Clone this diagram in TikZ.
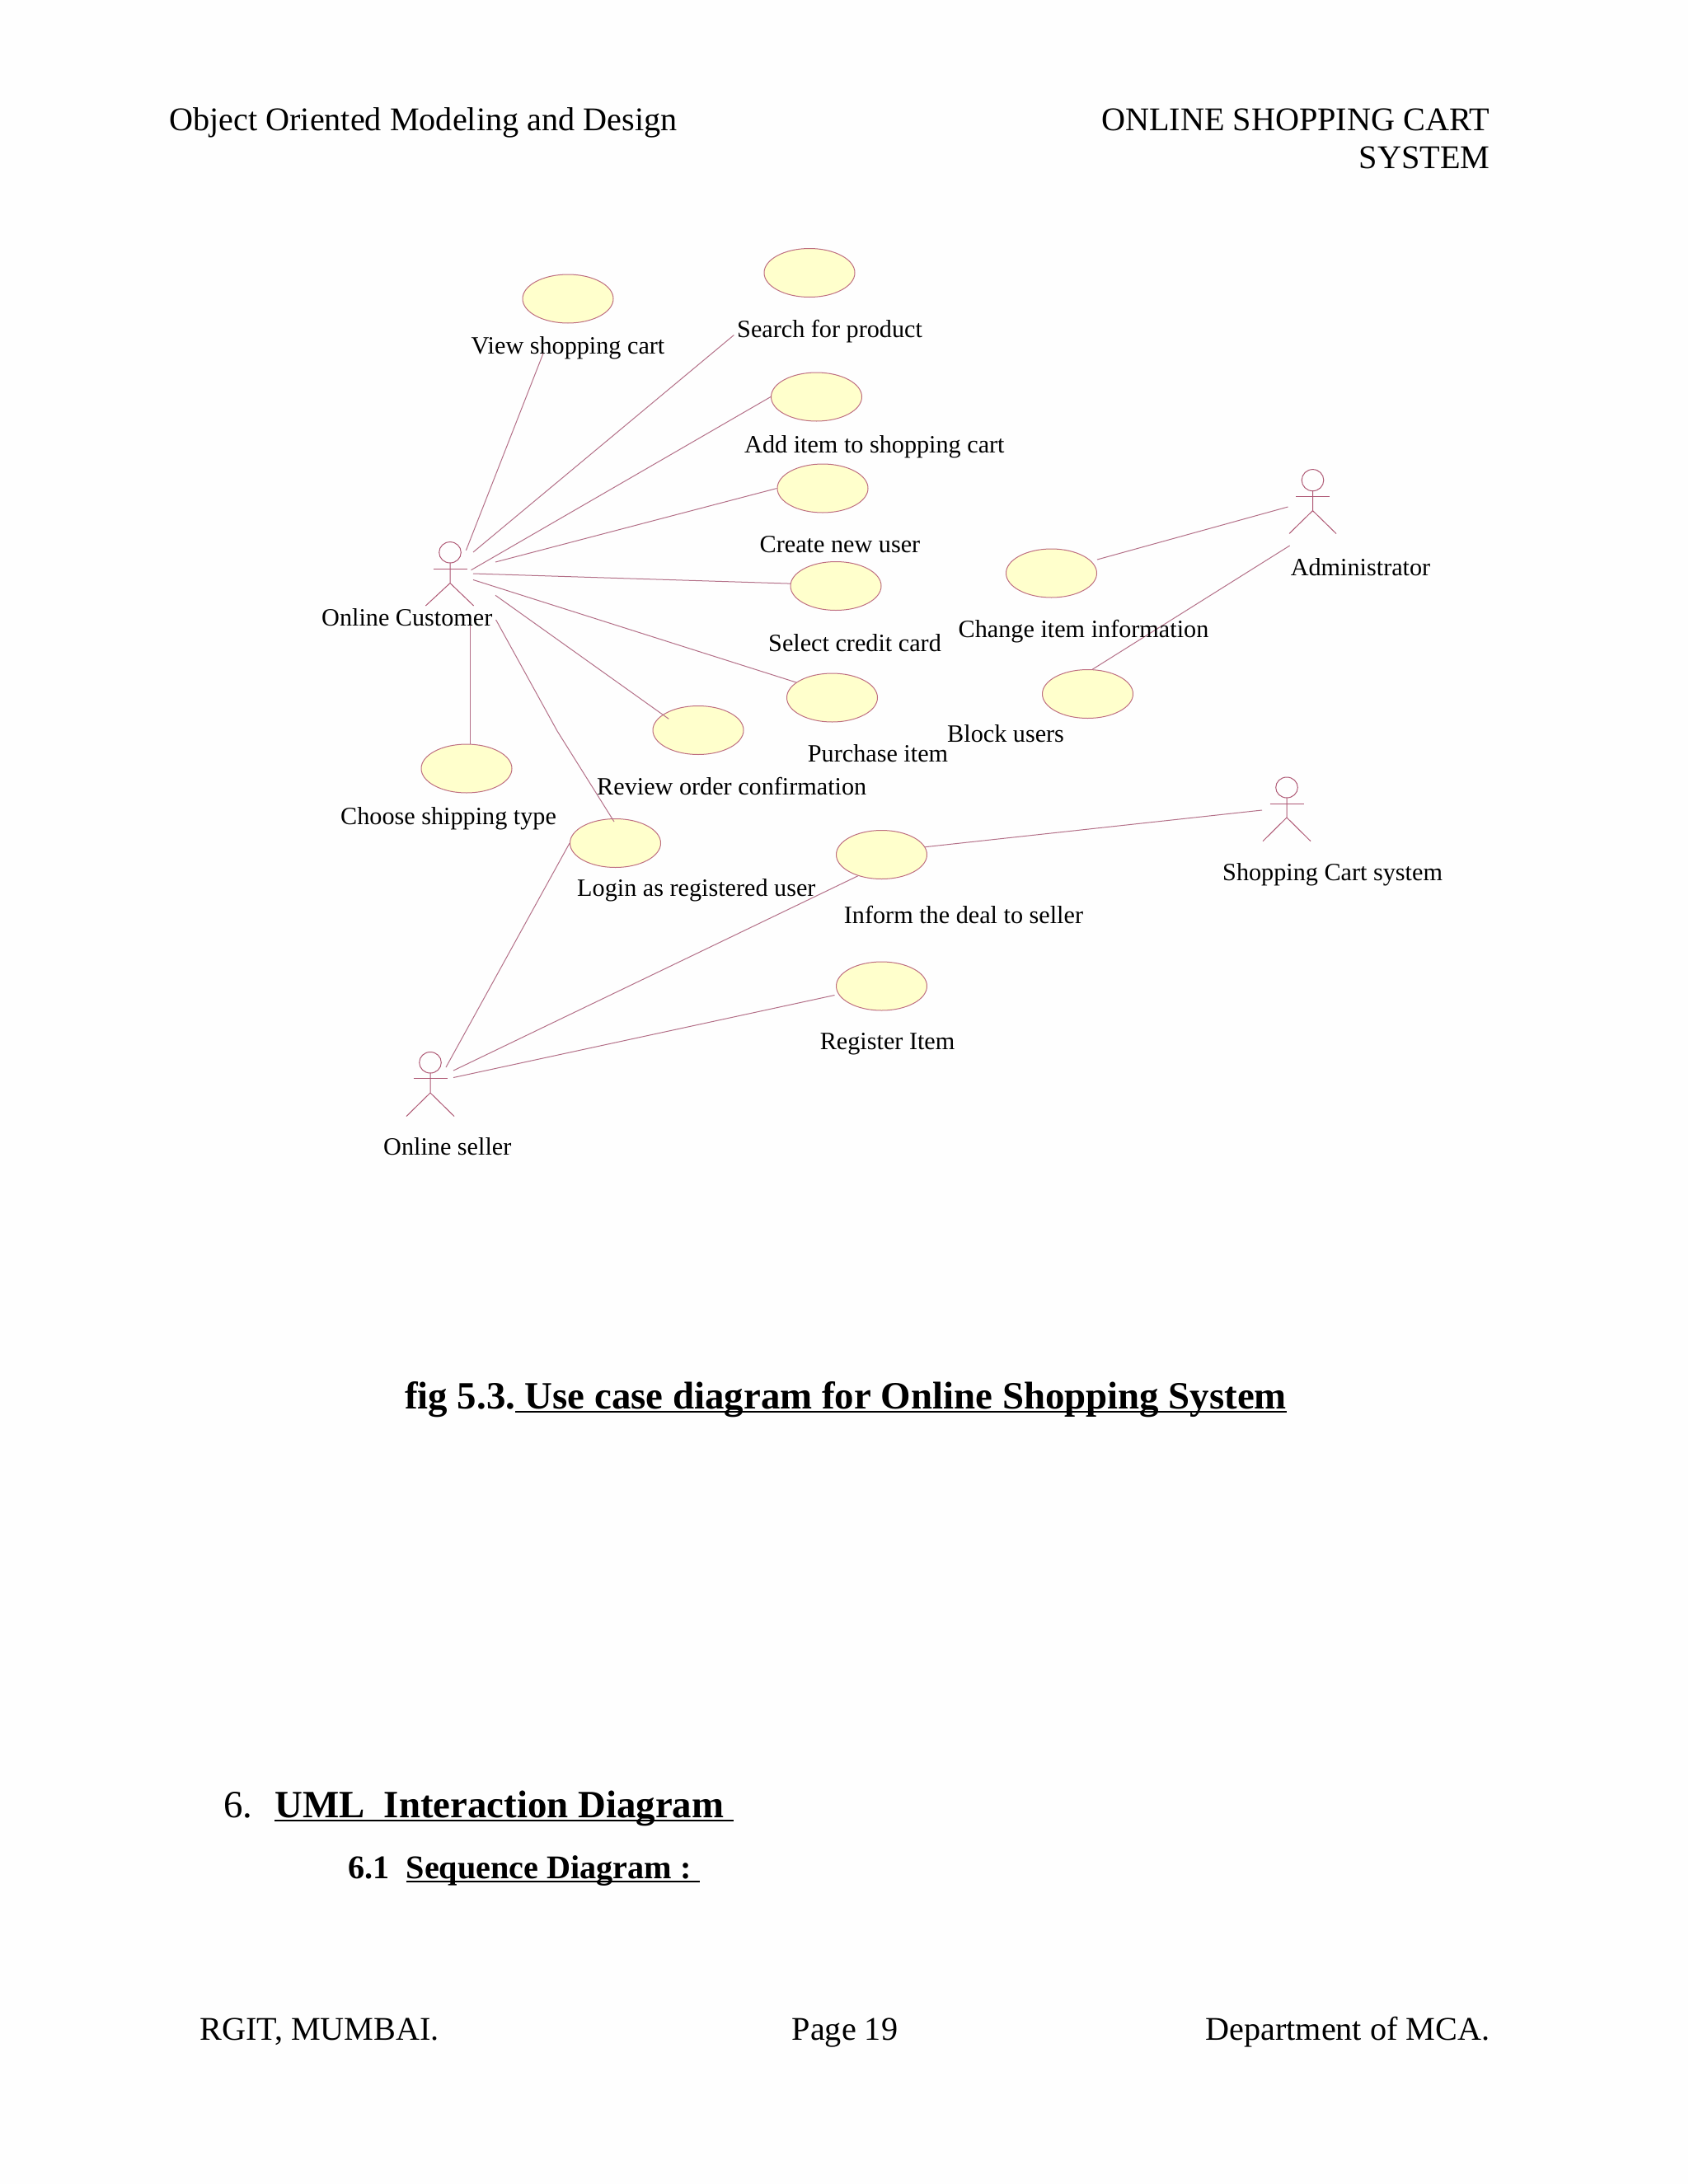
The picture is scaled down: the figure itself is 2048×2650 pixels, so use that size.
\documentclass[tikz,border=0pt]{standalone}
\usepackage{fontspec}
\usetikzlibrary{shapes.geometric}
\setmainfont{Liberation Serif}
\definecolor{ucline}{HTML}{B47088}
\definecolor{ucedge}{HTML}{BE6E80}
\definecolor{ucactorc}{HTML}{AE5874}
\definecolor{ucfill}{HTML}{FFFFCC}
\definecolor{pagebg}{HTML}{FEFEFE}
\newsavebox\ulbox
\newcommand\ulin[1]{\sbox\ulbox{#1}\rlap{\rule[-0.11em]{\wd\ulbox}{0.055em}}\usebox\ulbox}
\tikzset{
  usecase/.style={draw=ucedge,fill=ucfill,shape=ellipse,inner sep=0pt,minimum width=110pt,minimum height=59pt,line width=1pt},
  assoc/.style={draw=ucline,line width=1pt},
  actorline/.style={draw=ucactorc,line width=1pt},
  lab/.style={anchor=base west,inner sep=0pt,font=\fontsize{30.2}{36}\selectfont},
  page/.style={anchor=base west,inner sep=0pt,font=\fontsize{40.2}{48}\selectfont},
  pageright/.style={anchor=base east,inner sep=0pt,font=\fontsize{40.2}{48}\selectfont},
  headbig/.style={anchor=base west,inner sep=0pt,font=\fontsize{46.85}{56}\selectfont\bfseries},
  headmid/.style={anchor=base west,inner sep=0pt,font=\fontsize{40.2}{48}\selectfont\bfseries}
}
% \ucactor{cx}{head top}{head bottom}{arm half}{arm y}{hip y}{leg left}{leg right}{foot y}
\newcommand\ucactor[9]{%
  \draw[actorline] (#1,{(#2+#3)/2}) ellipse [x radius=13.3pt,y radius={(#3-#2)/2*1pt}];
  \draw[actorline] (#1,#3) -- (#1,#6) (#7,#9) -- (#1,#6) -- (#8,#9);
  \draw[actorline] ({#1-#4},#5) -- ({#1+#4},#5);
}
\begin{document}
\begin{tikzpicture}[x=1pt,y=-1pt]
\useasboundingbox (0,0) rectangle (2048,2650);
\fill[pagebg] (0,0) rectangle (2048,2650);

% use cases
\node[usecase] (view) at (689,362.5) {};
\node[usecase] (search) at (982,331) {};
\node[usecase] (additem) at (990.5,481.5) {};
\node[usecase] (create) at (998,592.5) {};
\node[usecase] (select) at (1014,711) {};
\node[usecase] (purchase) at (1009.5,846.5) {};
\node[usecase] (review) at (847,886) {};
\node[usecase] (choose) at (566,932.5) {};
\node[usecase] (login) at (746.5,1023) {};
\node[usecase] (inform) at (1069.5,1037) {};
\node[usecase] (register) at (1069.5,1196.5) {};
\node[usecase] (change) at (1275.5,695.5) {};
\node[usecase] (block) at (1319.5,842) {};

% actors
\ucactor{546}{657.6}{683}{20.5}{690}{707.5}{516.4}{574.6}{735}
\ucactor{522}{1276.5}{1302}{20.5}{1308.5}{1326}{493}{551}{1354.5}
\ucactor{1592.5}{569.6}{595.7}{20.5}{602}{619.6}{1564}{1621}{647.5}
\ucactor{1561}{943}{968}{20.5}{975}{992}{1532}{1590}{1020.7}

% free ends of the associations
\coordinate (cuA) at (565.4,667.8);
\coordinate (cuB) at (574,670);
\coordinate (cuC) at (571.5,691.7);
\coordinate (cuD) at (601,682);
\coordinate (cuE) at (574,696);
\coordinate (cuF) at (574,703.5);
\coordinate (cuG) at (601,722.3);
\coordinate (cuH) at (570.5,752);
\coordinate (cuI) at (601.6,752);
\coordinate (cuBend) at (676,887);
\coordinate (viewEnd) at (659.3,428);
\coordinate (searchEnd) at (890.4,406.5);
\coordinate (reviewEnd) at (811.3,872.3);
\coordinate (loginEnd) at (745,997);
\coordinate (seA) at (541,1295);
\coordinate (seB) at (550,1299);
\coordinate (seC) at (550,1307.5);
\coordinate (adA) at (1562.5,615);
\coordinate (adB) at (1564.7,662);
\coordinate (caA) at (1531,983);
\coordinate (changeEnd) at (1331,679);
\coordinate (registerEnd) at (1012.5,1207.5);

% associations
\draw[assoc] (cuA) -- (viewEnd);
\draw[assoc] (cuB) -- (searchEnd);
\draw[assoc] (cuC) -- (additem.west);
\draw[assoc] (cuD) -- (create.west);
\draw[assoc] (cuE) -- (select.177);
\draw[assoc] (cuF) -- (purchase.157);
\draw[assoc] (cuG) -- (reviewEnd);
\draw[assoc] (cuH) -- (cuH |- choose.north);
\draw[assoc] (cuI) -- (cuBend) -- (loginEnd);
\draw[assoc] (seA) -- (login.west);
\draw[assoc] (seB) -- (inform.222);
\draw[assoc] (seC) -- (registerEnd);
\draw[assoc] (adA) -- (changeEnd);
\draw[assoc] (adB) -- (block.79);
\draw[assoc] (caA) -- (inform.10);

% labels
\node[lab] (tView) at (571.5,429.5) {View shopping cart};
\node[lab] (tSearch) at (894,409.6) {Search for product};
\node[lab] (tAdd) at (903,549) {Add item to shopping cart};
\node[lab] (tCreate) at (921.5,670.5) {Create new user};
\node[lab] (tSelect) at (932,790) {Select credit card};
\node[lab] (tCust) at (390,759.6) {Online Customer};
\node[lab] (tPurch) at (979.7,924.5) {Purchase item};
\node[lab] (tReview) at (724,964) {Review order confirmation};
\node[lab] (tChoose) at (413,1000.5) {Choose shipping type};
\node[lab] (tLogin) at (700,1087) {Login as registered user};
\node[lab] (tInform) at (1023.7,1120.5) {Inform the deal to seller};
\node[lab] (tReg) at (994.6,1273) {Register Item};
\node[lab] (tSeller) at (465,1401.5) {Online seller};
\node[lab] (tAdmin) at (1565.6,698.6) {Administrator};
\node[lab] (tChange) at (1162.5,773) {Change item information};
\node[lab] (tBlock) at (1149,900) {Block users};
\node[lab] (tCart) at (1483,1068) {Shopping Cart system};

% page text
\node[page] (hL) at (205,158.5) {Object Oriented Modeling and Design};
\node[pageright] (hR1) at (1807.5,158.5) {ONLINE SHOPPING CART};
\node[pageright] (hR2) at (1807.5,204.5) {SYSTEM};
\node[headbig] (cap) at (491,1709) {fig 5.3.\ulin{\ Use case diagram for Online Shopping System}};
\node[anchor=base west,inner sep=0pt,font=\fontsize{46.85}{56}\selectfont] (secN) at (271,2205) {6.};
\node[headbig] (sec) at (333,2205) {\ulin{UML\ \ Interaction Diagram\ }};
\node[headmid] (subN) at (422.5,2279.5) {6.1};
\node[headmid] (sub) at (492.5,2279.5) {\ulin{Sequence Diagram :\ }};
\node[page] (fL) at (242,2475.5) {RGIT, MUMBAI.};
\node[page] (fC) at (960.5,2475.5) {Page 19};
\node[pageright] (fR) at (1807.5,2475.5) {Department of MCA.};
\end{tikzpicture}
\end{document}
